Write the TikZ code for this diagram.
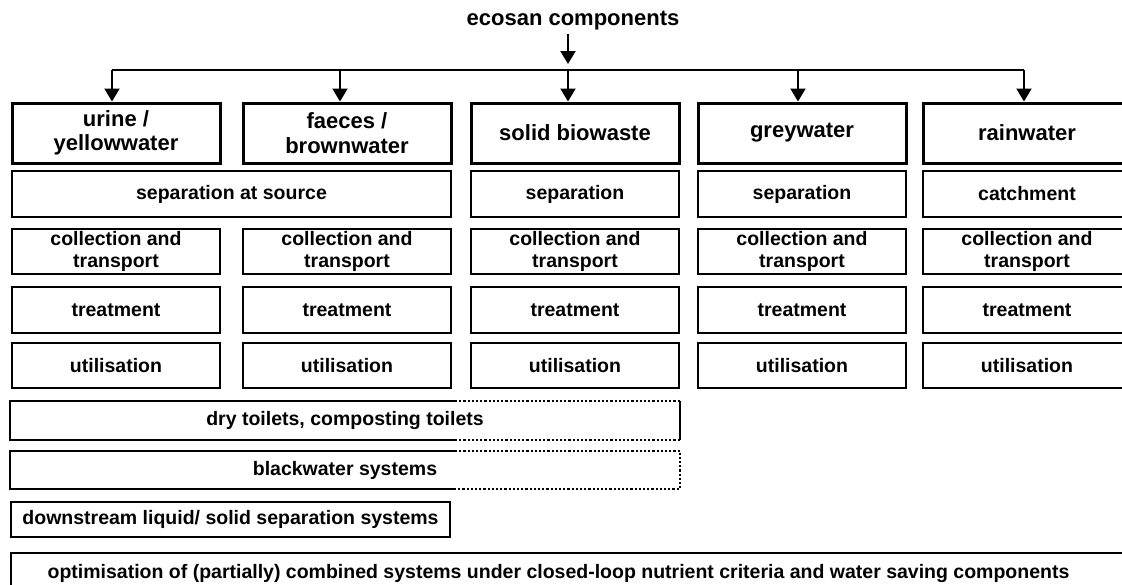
\documentclass[tikz,border=0pt]{standalone}
\usepackage{fontspec}
\setmainfont{Liberation Sans}
\usetikzlibrary{arrows.meta}

\tikzset{
  comp/.style={draw, line width=3pt, minimum width=208pt, minimum height=60pt,
    inner sep=0pt, align=center, font=\fontsize{22}{24.5}\selectfont\bfseries},
  stage/.style={draw, line width=2.2pt, minimum width=208pt, minimum height=46pt,
    inner sep=0pt, align=center, font=\fontsize{19.5}{22}\selectfont\bfseries},
  rimline/.style={line width=2.2pt},
  feed/.style={line width=2pt, -{Triangle[width=15pt,length=13pt]}}
}

\begin{document}
\begin{tikzpicture}[x=1pt,y=-1pt]
\useasboundingbox (0,0) rectangle (1122,584);
\clip (0,0) rectangle (1122,584);

% The title and the branching line
\node[font=\fontsize{22}{26}\selectfont\bfseries] (eco) at (573,21) {ecosan components};
\coordinate (j1) at (112,70);
\coordinate (j2) at (340,70);
\coordinate (j3) at (568,70);
\coordinate (j4) at (798,70);
\coordinate (j5) at (1024,70);
\draw[feed, shorten >=6pt] (eco.south -| j3) -- (j3);
\draw[line width=2pt] (j1) -- (j5);

% The components
\node[comp] (urine) at (116,133) {urine /\\yellowwater};
\node[comp] (faeces) at (347,133) {faeces /\\brownwater};
\node[comp] (solid) at (575,133) {solid biowaste};
\node[comp] (grey) at (802,133) {greywater};
\node[comp] (rain) at (1027,133) {rainwater};

\draw[feed] (j1) -- (j1 |- urine.north);
\draw[feed] (j2) -- (j2 |- faeces.north);
\draw[feed] (j3) -- (j3 |- solid.north);
\draw[feed] (j4) -- (j4 |- grey.north);
\draw[feed] (j5) -- (j5 |- rain.north);

% Separation
\node[stage, minimum width=439pt] (srcsep) at (231.5,194) {separation at source};
\node[stage] (solidsep) at (575,194) {separation};
\node[stage] (greysep) at (802,194) {separation};
\node[stage] (catch) at (1027,194) {catchment};

% Collection and transport
\node[stage, minimum height=45pt] (urinecol) at (116,251.5) {collection and\\transport};
\node[stage, minimum height=45pt] (faecescol) at (347,251.5) {collection and\\transport};
\node[stage, minimum height=45pt] (solidcol) at (575,251.5) {collection and\\transport};
\node[stage, minimum height=45pt] (greycol) at (802,251.5) {collection and\\transport};
\node[stage, minimum height=45pt] (raincol) at (1027,251.5) {collection and\\transport};

% Treatment
\node[stage] (urinetr) at (116,310) {treatment};
\node[stage] (faecestr) at (347,310) {treatment};
\node[stage] (solidtr) at (575,310) {treatment};
\node[stage] (greytr) at (802,310) {treatment};
\node[stage] (raintr) at (1027,310) {treatment};

% Utilisation
\node[stage, minimum height=45pt] (urineut) at (116,365.5) {utilisation};
\node[stage, minimum height=45pt] (faecesut) at (347,365.5) {utilisation};
\node[stage, minimum height=45pt] (solidut) at (575,365.5) {utilisation};
\node[stage, minimum height=45pt] (greyut) at (802,365.5) {utilisation};
\node[stage, minimum height=45pt] (rainut) at (1027,365.5) {utilisation};

% The systems
\coordinate (cut) at (455,0);
\node[stage, draw=none, minimum width=668pt, minimum height=37pt] (dry) at (345,420.5) {dry toilets, composting toilets};
\draw[rimline] (dry.north -| cut) -- (dry.north west) -- (dry.south west) -- (dry.south -| cut);
\draw[rimline, dotted] (dry.north -| cut) -- (dry.north east);
\draw[rimline, dotted] (dry.south -| cut) -- (dry.south east);
\draw[rimline] (dry.north east) -- (dry.south east);

\node[stage, draw=none, minimum width=668pt, minimum height=36pt] (black) at (345,470) {blackwater systems};
\draw[rimline] (black.north -| cut) -- (black.north west) -- (black.south west) -- (black.south -| cut);
\draw[rimline, dotted] (black.north -| cut) -- (black.north east) -- (black.south east) -- (black.south -| cut);

\node[stage, minimum width=439pt, minimum height=35pt] (down) at (230.5,519.5) {downstream liquid/ solid separation systems};
\node[stage, minimum width=1130pt, minimum height=40pt] (optim) at (576,573) {optimisation of (partially) combined systems under closed-loop nutrient criteria and water saving components\hspace{35pt}};
\end{tikzpicture}
\end{document}
